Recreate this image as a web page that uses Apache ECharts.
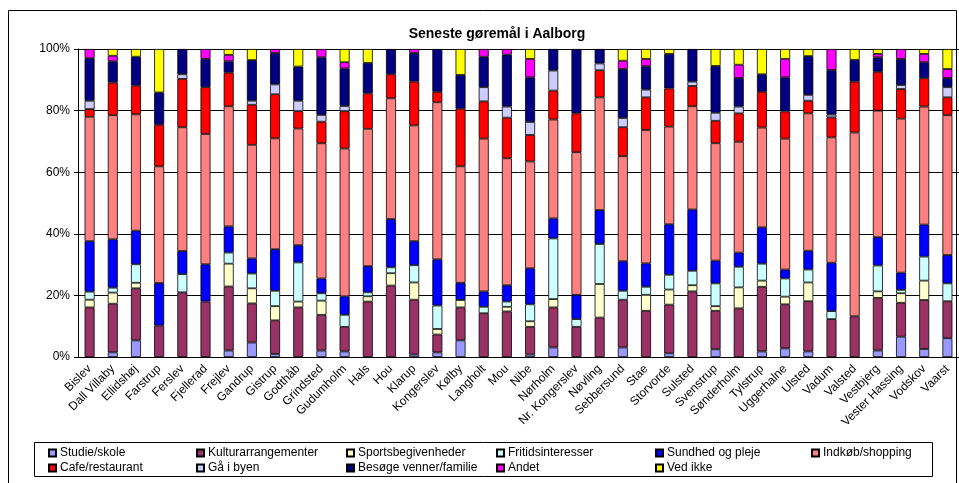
<!DOCTYPE html>
<html>
<head>
<meta charset="utf-8">
<script src="https://cdn.jsdelivr.net/npm/echarts@6/dist/echarts.min.js"></script>
<style>
  html, body { margin: 0; padding: 0; background: #fff; }
  #chart { width: 959px; height: 483px; }
</style>
</head>
<body>
<div id="chart"></div>
<script>
// Byer (kategorier)
const towns = ['Bislev', 'Dall Villaby', 'Ellidshøj', 'Farstrup', 'Ferslev', 'Fjellerad', 'Frejlev', 'Gandrup', 'Gistrup', 'Godthåb',
  'Grindsted', 'Gudumholm', 'Hals', 'Hou', 'Klarup', 'Kongerslev', 'Kølby', 'Langholt', 'Mou', 'Nibe',
  'Nørholm', 'Nr. Kongerslev', 'Nøvling', 'Sebbersund', 'Stae', 'Storvorde', 'Sulsted', 'Svenstrup', 'Sønderholm', 'Tylstrup',
  'Uggerhalne', 'Ulsted', 'Vadum', 'Valsted', 'Vestbjerg', 'Vester Hassing', 'Vodskov', 'Vaarst'];

const yTicks = [0, 20, 40, 60, 80, 100];

// andele i procent
const studie = [0, 1.5, 5.4, 0, 0, 0, 2.1, 4.7, 1.0, 0, 2.1, 1.8, 0, 0, 0.8, 1.5, 5.4, 0, 0, 0.8, 3.1, 0, 0, 3.1, 0, 1.2, 0, 2.5, 0, 1.8, 2.8, 1.8, 0, 0, 2.1, 6.6, 2.6, 6.1];
const kultur = [16.1, 15.8, 16.9, 10.2, 21.0, 18.0, 20.8, 12.7, 10.9, 16.1, 11.6, 8.0, 18.0, 23.2, 17.8, 5.8, 10.7, 14.2, 14.8, 9.0, 13.0, 9.8, 12.8, 15.5, 15.0, 15.8, 21.3, 12.5, 15.8, 21.0, 14.3, 16.3, 12.3, 13.2, 17.1, 11.0, 15.9, 12.0];
const sport = [2.5, 3.6, 1.8, 0, 0, 0, 7.4, 4.9, 4.6, 1.9, 4.6, 0, 1.7, 4.0, 5.6, 1.8, 2.4, 0, 1.5, 1.8, 2.7, 0, 10.9, 0, 5.2, 4.9, 2.0, 1.5, 6.8, 2.0, 2.5, 6.1, 0, 0, 2.1, 3.1, 6.3, 0];
const fritid = [2.6, 1.6, 6.0, 0, 5.9, 0, 3.6, 4.8, 5.0, 12.7, 2.4, 3.9, 1.3, 1.9, 5.6, 7.6, 0, 2.1, 1.7, 5.5, 19.7, 2.5, 13.0, 2.9, 2.6, 4.8, 4.7, 7.4, 6.7, 5.5, 5.9, 4.2, 2.6, 0, 8.4, 1.1, 7.8, 5.8];
const sundhed = [16.4, 15.7, 10.9, 13.8, 7.5, 12.1, 8.5, 4.9, 13.5, 5.6, 4.8, 6.0, 8.5, 15.7, 7.8, 15.0, 5.6, 5.0, 5.3, 11.7, 6.5, 7.9, 11.0, 9.6, 7.6, 16.4, 19.9, 7.4, 4.6, 11.8, 2.9, 6.1, 15.7, 0, 9.2, 5.6, 10.4, 9.2];
const indkoeb = [40.4, 40.3, 37.8, 37.9, 40.2, 42.3, 39.0, 36.9, 36.0, 37.9, 43.9, 48.0, 44.6, 39.2, 37.6, 51.0, 37.8, 49.6, 41.2, 34.7, 32.1, 46.3, 36.6, 34.1, 43.3, 31.7, 33.5, 38.1, 36.0, 32.4, 42.5, 44.6, 40.7, 59.7, 41.1, 50.0, 38.3, 45.4];
const cafe = [2.5, 10.6, 9.3, 13.5, 15.7, 15.2, 10.9, 13.0, 14.3, 5.6, 7.0, 12.1, 11.5, 7.8, 14.2, 3.4, 18.7, 12.1, 13.2, 8.6, 9.4, 12.6, 8.8, 9.4, 10.6, 12.4, 6.6, 7.3, 9.2, 11.6, 8.8, 4.1, 6.5, 16.5, 12.6, 9.6, 9.2, 5.8];
const gaaIByen = [2.7, 0, 0, 0, 1.5, 0, 0, 1.3, 3.2, 3.4, 2.2, 1.7, 0, 0, 0, 0, 0, 4.6, 3.6, 4.2, 6.5, 0, 2.2, 3.0, 2.5, 0, 1.4, 2.6, 2.2, 0, 0, 1.9, 0.9, 0, 0, 1.3, 0, 3.3];
const besoege = [13.8, 6.9, 9.4, 10.5, 8.2, 9.2, 3.7, 13.2, 10.2, 11.1, 18.7, 12.2, 9.9, 8.2, 9.3, 13.9, 11.0, 9.9, 16.9, 14.5, 7.0, 20.9, 4.7, 15.9, 7.6, 11.2, 10.6, 15.2, 9.3, 5.7, 11.1, 12.6, 14.5, 7.1, 4.7, 8.5, 5.2, 3.0];
const andet = [3.0, 1.8, 0, 0, 0, 3.2, 2.1, 0, 1.3, 0, 2.7, 2.0, 0, 0, 1.3, 0, 0, 2.5, 1.8, 6.0, 0, 0, 0, 2.7, 2.4, 0, 0, 0, 4.3, 0, 6.0, 0, 6.8, 0, 1.1, 3.2, 2.7, 2.9];
const vedIkke = [0, 2.2, 2.5, 14.1, 0, 0, 1.9, 3.6, 0, 5.7, 0, 4.3, 4.5, 0, 0, 0, 8.4, 0, 0, 3.2, 0, 0, 0, 3.8, 3.2, 1.6, 0, 5.5, 5.1, 8.2, 3.2, 2.3, 0, 3.5, 1.6, 0, 1.6, 6.5];

const seriesDefs = [
  { name: 'Studie/skole', data: studie, color: '#9999ff' },
  { name: 'Kulturarrangementer', data: kultur, color: '#993366' },
  { name: 'Sportsbegivenheder', data: sport, color: '#ffffcc' },
  { name: 'Fritidsinteresser', data: fritid, color: '#ccffff' },
  { name: 'Sundhed og pleje', data: sundhed, color: '#0000ff' },
  { name: 'Indkøb/shopping', data: indkoeb, color: '#ff8080' },
  { name: 'Cafe/restaurant', data: cafe, color: '#ff0000' },
  { name: 'Gå i byen', data: gaaIByen, color: '#ccccff' },
  { name: 'Besøge venner/familie', data: besoege, color: '#000080' },
  { name: 'Andet', data: andet, color: '#ff00ff' },
  { name: 'Ved ikke', data: vedIkke, color: '#ffff00' }
];

const font = 'Liberation Sans, Arial, sans-serif';

// legend placeret i 6 kolonner x 2 rækker som i Excel
const legendCols = [43, 191, 341, 491, 650, 806];
const legends = seriesDefs.map((s, i) => ({
  data: [s.name],
  left: legendCols[i % 6],
  top: i < 6 ? 442 : 457,
  itemWidth: 7,
  itemHeight: 7,
  itemGap: 0,
  icon: 'rect',
  selectedMode: false,
  textStyle: { fontFamily: font, fontSize: 12, color: '#000', padding: [0, 0, 0, -1] }
}));

const chart = echarts.init(document.getElementById('chart'));
chart.setOption({
  backgroundColor: '#fff',
  animation: false,
  title: {
    text: 'Seneste gøremål i Aalborg',
    left: 492,
    textAlign: 'center',
    top: 22,
    textStyle: { fontFamily: font, fontSize: 14, fontWeight: 'bold', color: '#000' }
  },
  legend: legends,
  grid: { left: 78, top: 49, width: 885, height: 308 },
  xAxis: {
    type: 'category',
    data: towns,
    axisLine: { lineStyle: { color: '#000', width: 1 } },
    axisTick: { lineStyle: { color: '#000' }, length: 4 },
    axisLabel: { rotate: 45, interval: 0, fontFamily: font, fontSize: 12, color: '#000', margin: 10 }
  },
  yAxis: {
    type: 'value',
    min: yTicks[0],
    max: yTicks[yTicks.length - 1],
    interval: 20,
    axisLine: { show: true, lineStyle: { color: '#000' } },
    axisTick: { show: true, length: 4, lineStyle: { color: '#000' } },
    splitLine: { lineStyle: { color: '#000', width: 1 } },
    axisLabel: { formatter: '{value}%', fontFamily: font, fontSize: 12, color: '#000', margin: 8 }
  },
  series: seriesDefs.map(s => ({
    name: s.name,
    type: 'bar',
    stack: 'total',
    barWidth: 10,
    data: s.data.map(v => (v > 0 ? v : '-')),
    itemStyle: { color: s.color, borderColor: '#000', borderWidth: 0.8 }
  })),
  graphic: [
    {
      type: 'rect',
      shape: { x: 8.5, y: 10.5, width: 948, height: 480 },
      style: { fill: null, stroke: '#000', lineWidth: 1 },
      silent: true,
      z: 0
    },
    {
      type: 'rect',
      shape: { x: 34.5, y: 442.5, width: 898, height: 34 },
      style: { fill: null, stroke: '#000', lineWidth: 1 },
      silent: true,
      z: 0
    }
  ]
});
</script>
</body>
</html>
